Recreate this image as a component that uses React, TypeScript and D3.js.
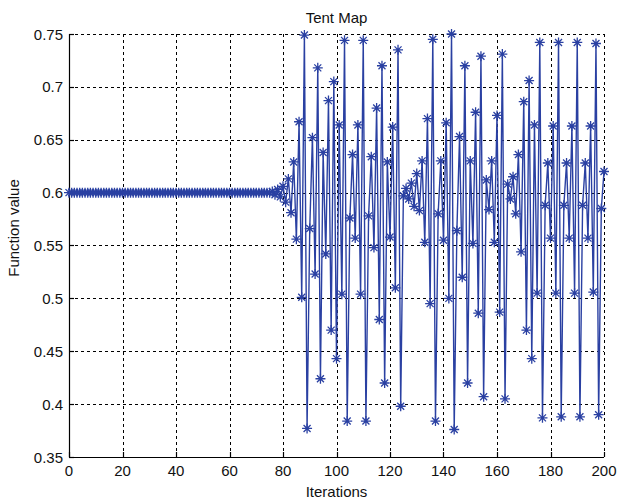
import React, { useRef, useEffect } from 'react';
import * as d3 from 'd3';

// iterations 0-79, the run sits on the fixed point before it starts to wobble
const valuesA = [
  0.6, 0.6, 0.6, 0.6, 0.6, 0.6, 0.6, 0.6, 0.6, 0.6,
  0.6, 0.6, 0.6, 0.6, 0.6, 0.6, 0.6, 0.6, 0.6, 0.6,
  0.6, 0.6, 0.6, 0.6, 0.6, 0.6, 0.6, 0.6, 0.6, 0.6,
  0.6, 0.6, 0.6, 0.6, 0.6, 0.6, 0.6, 0.6, 0.6, 0.6,
  0.6, 0.6, 0.6, 0.6, 0.6, 0.6, 0.6, 0.6, 0.6, 0.6,
  0.6, 0.6, 0.6, 0.6, 0.6, 0.6, 0.6, 0.6, 0.6, 0.6,
  0.6, 0.6, 0.6, 0.6, 0.6, 0.6, 0.6, 0.6, 0.6, 0.6,
  0.6, 0.6, 0.6, 0.6, 0.6, 0.6, 0.601, 0.598, 0.603, 0.596,
];

// iterations 80-139
const valuesB = [
  0.606, 0.591, 0.613, 0.581, 0.629, 0.556, 0.667, 0.501, 0.749, 0.377,
  0.566, 0.652, 0.523, 0.718, 0.424, 0.638, 0.542, 0.687, 0.47, 0.705,
  0.443, 0.664, 0.504, 0.744, 0.384, 0.576, 0.636, 0.557, 0.664, 0.504,
  0.744, 0.384, 0.578, 0.634, 0.548, 0.68, 0.48, 0.72, 0.42, 0.629,
  0.558, 0.662, 0.51, 0.735, 0.398, 0.597, 0.604, 0.594, 0.609, 0.587,
  0.618, 0.583, 0.63, 0.553, 0.67, 0.495, 0.745, 0.384, 0.58, 0.63,
];

// iterations 140-200
const valuesC = [
  0.555, 0.666, 0.5, 0.75, 0.376, 0.564, 0.653, 0.52, 0.72, 0.42,
  0.63, 0.552, 0.676, 0.486, 0.729, 0.407, 0.612, 0.584, 0.63, 0.553,
  0.673, 0.487, 0.731, 0.405, 0.608, 0.594, 0.615, 0.58, 0.636, 0.544,
  0.686, 0.47, 0.706, 0.443, 0.664, 0.505, 0.742, 0.387, 0.588, 0.628,
  0.557, 0.663, 0.505, 0.742, 0.388, 0.588, 0.628, 0.557, 0.663, 0.505,
  0.742, 0.388, 0.588, 0.628, 0.557, 0.663, 0.506, 0.741, 0.39, 0.585,
  0.62,
];

const xTicks = [0, 20, 40, 60, 80, 100, 120, 140, 160, 180, 200];
const yTicks = [0.35, 0.4, 0.45, 0.5, 0.55, 0.6, 0.65, 0.7, 0.75];
const yTickLabels = ['0.35', '0.4', '0.45', '0.5', '0.55', '0.6', '0.65', '0.7', '0.75'];

const lineColor = '#2a40a2';
const font = '"Liberation Sans", Arial, sans-serif';

function TentMap() {
  const svgRef = useRef<SVGSVGElement>(null);

  useEffect(() => {
    const svg = d3.select(svgRef.current);
    svg.selectAll('*').remove();

    const width = 617;
    const height = 500;
    const values = [...valuesA, ...valuesB, ...valuesC];
    const points = values.map((v, i) => [i, v] as [number, number]);

    const x = d3.scaleLinear().domain([0, 200]).range([69, 604]);
    const y = d3.scaleLinear().domain([0.35, 0.75]).range([457, 34]);

    svg.attr('width', width).attr('height', height);
    svg.append('rect').attr('width', width).attr('height', height).attr('fill', '#fff');

    // dashed grid, top and right edges included
    const grid = svg.append('g').attr('stroke', '#000').attr('stroke-width', 1)
      .attr('stroke-dasharray', '3,3');
    grid.selectAll('line.v')
      .data(xTicks.slice(1))
      .enter()
      .append('line')
      .attr('x1', d => Math.round(x(d)) + 0.5)
      .attr('x2', d => Math.round(x(d)) + 0.5)
      .attr('y1', y(0.75))
      .attr('y2', y(0.35));
    grid.selectAll('line.h')
      .data(yTicks.slice(1))
      .enter()
      .append('line')
      .attr('x1', x(0))
      .attr('x2', x(200))
      .attr('y1', d => Math.round(y(d)) + 0.5)
      .attr('y2', d => Math.round(y(d)) + 0.5);

    // solid axes with inward ticks
    const axes = svg.append('g').attr('stroke', '#000').attr('stroke-width', 1.2);
    axes.append('line')
      .attr('x1', Math.round(x(0)) + 0.5).attr('x2', Math.round(x(0)) + 0.5)
      .attr('y1', y(0.75)).attr('y2', Math.round(y(0.35)) + 0.5);
    axes.append('line')
      .attr('x1', x(0)).attr('x2', x(200))
      .attr('y1', Math.round(y(0.35)) + 0.5).attr('y2', Math.round(y(0.35)) + 0.5);
    axes.selectAll('line.xt')
      .data(xTicks)
      .enter()
      .append('line')
      .attr('x1', d => Math.round(x(d)) + 0.5)
      .attr('x2', d => Math.round(x(d)) + 0.5)
      .attr('y1', y(0.35))
      .attr('y2', y(0.35) - 5);
    axes.selectAll('line.yt')
      .data(yTicks)
      .enter()
      .append('line')
      .attr('x1', x(0))
      .attr('x2', x(0) + 5)
      .attr('y1', d => Math.round(y(d)) + 0.5)
      .attr('y2', d => Math.round(y(d)) + 0.5);

    // the series
    const line = d3.line<[number, number]>()
      .x(d => x(d[0]))
      .y(d => y(d[1]));
    svg.append('path')
      .datum(points)
      .attr('d', line)
      .attr('fill', 'none')
      .attr('stroke', lineColor)
      .attr('stroke-width', 1.4);

    // asterisk markers: a plus and a cross on top of each other
    const r = 5;
    const k = r * 0.7;
    const star = `M${-r},0L${r},0M0,${-r}L0,${r}` +
      `M${-k},${-k}L${k},${k}M${-k},${k}L${k},${-k}`;
    svg.append('g')
      .selectAll('path')
      .data(points)
      .enter()
      .append('path')
      .attr('d', star)
      .attr('transform', d => `translate(${x(d[0])},${y(d[1])})`)
      .attr('fill', 'none')
      .attr('stroke', lineColor)
      .attr('stroke-width', 1.3);

    // tick labels
    const labels = svg.append('g').attr('font-family', font).attr('font-size', 15).attr('fill', '#111');
    labels.selectAll('text.x')
      .data(xTicks)
      .enter()
      .append('text')
      .attr('x', d => x(d))
      .attr('y', 476)
      .attr('text-anchor', 'middle')
      .text(d => d);
    labels.selectAll('text.y')
      .data(yTicks)
      .enter()
      .append('text')
      .attr('x', 63)
      .attr('y', d => y(d) + 5.5)
      .attr('text-anchor', 'end')
      .text((d, i) => yTickLabels[i]);

    labels.append('text')
      .attr('x', (x(0) + x(200)) / 2)
      .attr('y', 23)
      .attr('text-anchor', 'middle')
      .text('Tent Map');
    labels.append('text')
      .attr('x', (x(0) + x(200)) / 2)
      .attr('y', 497)
      .attr('text-anchor', 'middle')
      .text('Iterations');
    labels.append('text')
      .attr('transform', 'translate(19,228) rotate(-90)')
      .attr('text-anchor', 'middle')
      .text('Function value');
  }, []);

  return <svg ref={svgRef} style={{ position: 'absolute', left: 0, top: 0 }}></svg>;
}

export default function App() {
  return <TentMap />;
}
